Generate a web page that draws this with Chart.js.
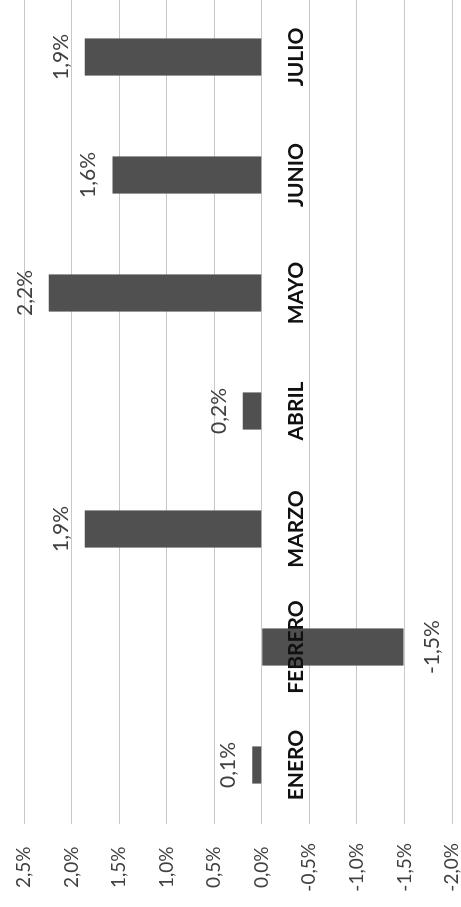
<!DOCTYPE html>
<html>
<head>
<meta charset="utf-8">
<script src="https://cdn.jsdelivr.net/npm/chart.js@4"></script>
<style>
  html, body { margin: 0; padding: 0; background: #fff; overflow: hidden; }
  /* the chart is drawn upright and then turned a quarter to the left */
  #wrap { position: absolute; left: 0; top: 0; width: 909px; height: 461px;
          transform-origin: 0 0; transform: translateY(907px) rotate(-90deg); }
</style>
</head>
<body>
<div id="wrap"><canvas id="chart-months" width="909" height="461"></canvas></div>
<script>
// data
var months = ['ENERO', 'FEBRERO', 'MARZO', 'ABRIL', 'MAYO', 'JUNIO', 'JULIO'];
var values = [0.1, -1.49, 1.86, 0.2, 2.24, 1.57, 1.86];
var tickMin = -2.0, tickMax = 2.5, tickStep = 0.5;

function pct(v) { return v.toFixed(1).replace('.', ',') + '%'; }

// value labels at the outer end of each bar
var barLabels = {
  id: 'barLabels',
  afterDatasetsDraw: function (chart) {
    var ctx = chart.ctx;
    var meta = chart.getDatasetMeta(0);
    ctx.save();
    ctx.font = '21px Lato, sans-serif';
    ctx.fillStyle = '#404040';
    ctx.textAlign = 'center';
    ctx.textBaseline = 'alphabetic';
    var capH = ctx.measureText('1').actualBoundingBoxAscent;
    meta.data.forEach(function (bar, i) {
      var v = values[i];
      var y = v >= 0 ? bar.y - 17 : bar.y + 21 + capH;
      ctx.fillText(pct(v), bar.x, y);
    });
    ctx.restore();
  }
};

new Chart(document.getElementById('chart-months'), {
  type: 'bar',
  data: {
    labels: months,
    datasets: [{
      data: values,
      backgroundColor: '#505050',
      borderWidth: 0,
      categoryPercentage: 1,
      barPercentage: 0.315
    }]
  },
  options: {
    responsive: false,
    animation: false,
    layout: { padding: { top: 24, bottom: 9, left: 0, right: 0 } },
    plugins: { legend: { display: false }, tooltip: { enabled: false } },
    scales: {
      x: {
        position: { y: 0 },
        grid: { display: false, drawTicks: false },
        border: { display: false },
        ticks: {
          z: 1, // month names sit on top of the bars
          autoSkip: false, maxRotation: 0, padding: 22,
          color: '#111111', font: { family: 'Lato, sans-serif', size: 21, weight: 'bold' }
        },
        afterFit: function (s) { s.paddingLeft = 0; s.paddingRight = 0; }
      },
      y: {
        min: tickMin, max: tickMax,
        grid: { color: '#c8c8c8', lineWidth: 1, drawTicks: false },
        border: { display: false },
        ticks: {
          stepSize: tickStep, crossAlign: 'center', padding: 19,
          color: '#404040', font: { family: 'Lato, sans-serif', size: 19 },
          callback: function (v) { return pct(v); }
        },
        afterFit: function (s) { s.width = 83; s.paddingTop = 0; s.paddingBottom = 0; }
      }
    }
  },
  plugins: [barLabels]
});
</script>
</body>
</html>
